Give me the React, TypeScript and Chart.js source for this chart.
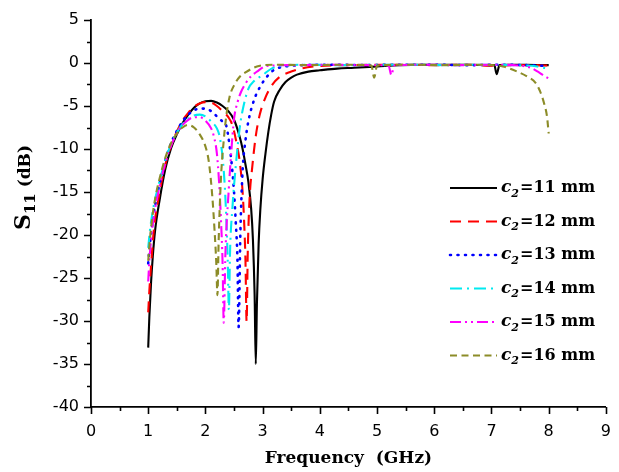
import React, { useEffect, useRef } from "react";
import { Chart, registerables } from "chart.js";

Chart.register(...registerables);

// ---- data ----
const c2Values = [11, 12, 13, 14, 15, 16];

const f11 = [1.0, 1.02, 1.05, 1.08, 1.12, 1.2, 1.3, 1.4, 1.5, 1.6, 1.7, 1.8, 1.9, 2.0, 2.1, 2.2, 2.3, 2.4, 2.5, 2.6, 2.65, 2.7, 2.75, 2.8, 2.83, 2.86, 2.88, 2.9, 2.93, 2.96, 3.0, 3.05, 3.1, 3.15, 3.2, 3.3, 3.4, 3.5, 3.6, 3.8, 4.0, 4.3, 4.6, 5.0, 5.4, 5.8, 6.2, 6.6, 7.0, 7.05, 7.09, 7.14, 7.3, 7.6, 8.0];
const s11 = [-33.1, -29.5, -25.5, -22.5, -19.5, -15.9, -12.3, -9.9, -8.3, -7.0, -6.0, -5.2, -4.7, -4.45, -4.4, -4.6, -5.0, -5.6, -6.6, -8.6, -10.0, -11.8, -13.8, -17.0, -20.5, -27.0, -35.0, -28.0, -21.0, -17.0, -13.5, -10.5, -8.0, -6.0, -4.5, -3.1, -2.2, -1.7, -1.35, -1.0, -0.85, -0.65, -0.55, -0.4, -0.25, -0.2, -0.2, -0.2, -0.25, -0.25, -1.3, -0.25, -0.2, -0.2, -0.25];

const f12 = [1.0, 1.02, 1.05, 1.1, 1.2, 1.3, 1.4, 1.5, 1.6, 1.7, 1.8, 1.9, 2.0, 2.1, 2.2, 2.3, 2.4, 2.47, 2.55, 2.6, 2.65, 2.68, 2.7, 2.72, 2.74, 2.77, 2.82, 2.88, 2.95, 3.05, 3.15, 3.3, 3.5, 3.7, 4.0, 4.5, 5.0, 5.5, 6.0, 6.5, 7.0, 7.5, 8.0];
const s12 = [-29.0, -26.5, -23.5, -19.3, -15.0, -11.8, -9.6, -8.0, -6.7, -5.8, -5.1, -4.7, -4.55, -4.6, -5.0, -5.6, -6.3, -7.2, -9.5, -11.5, -15.0, -19.0, -23.0, -30.1, -22.0, -16.0, -12.0, -8.5, -6.0, -4.0, -2.7, -1.6, -1.0, -0.6, -0.35, -0.25, -0.2, -0.2, -0.25, -0.2, -0.3, -0.25, -0.3];

const f13 = [1.0, 1.03, 1.07, 1.12, 1.2, 1.3, 1.4, 1.5, 1.6, 1.7, 1.8, 1.9, 2.0, 2.1, 2.2, 2.3, 2.36, 2.42, 2.47, 2.5, 2.53, 2.56, 2.58, 2.61, 2.65, 2.7, 2.75, 2.85, 2.97, 3.1, 3.2, 3.4, 3.7, 4.2, 4.8, 5.4, 6.0, 6.6, 7.2, 7.6, 8.0];
const s13 = [-23.3, -21.0, -18.8, -16.5, -14.0, -11.3, -9.3, -7.9, -6.8, -6.0, -5.5, -5.3, -5.3, -5.6, -6.2, -6.8, -7.2, -9.5, -12.5, -15.0, -18.5, -23.0, -30.7, -20.0, -12.5, -9.0, -6.8, -4.3, -2.6, -1.4, -0.8, -0.4, -0.25, -0.2, -0.25, -0.2, -0.2, -0.25, -0.2, -0.25, -0.35];

const f14 = [1.0, 1.03, 1.08, 1.15, 1.2, 1.3, 1.4, 1.5, 1.6, 1.7, 1.8, 1.9, 2.0, 2.1, 2.2, 2.25, 2.3, 2.34, 2.37, 2.39, 2.41, 2.43, 2.47, 2.53, 2.6, 2.65, 2.75, 2.85, 3.0, 3.17, 3.4, 3.8, 4.4, 5.0, 5.6, 6.2, 6.8, 7.4, 7.8, 8.0];
const s14 = [-21.5, -19.5, -17.2, -15.0, -13.7, -11.3, -9.4, -8.1, -7.1, -6.5, -6.1, -6.0, -6.2, -6.8, -7.6, -8.6, -11.0, -14.5, -19.0, -23.0, -28.7, -22.0, -17.0, -12.0, -7.5, -5.5, -3.0, -2.1, -1.4, -0.6, -0.3, -0.2, -0.25, -0.2, -0.2, -0.25, -0.2, -0.25, -0.4, -0.7];

const f15 = [1.0, 1.02, 1.05, 1.1, 1.2, 1.3, 1.4, 1.5, 1.6, 1.7, 1.8, 1.9, 2.0, 2.1, 2.15, 2.2, 2.24, 2.27, 2.3, 2.32, 2.35, 2.41, 2.45, 2.5, 2.56, 2.62, 2.7, 2.79, 2.9, 3.07, 3.5, 4.2, 4.8, 5.2, 5.25, 5.3, 5.8, 6.4, 7.0, 7.5, 7.7, 7.83, 7.92, 8.0];
const s15 = [-25.4, -23.0, -20.5, -17.8, -14.3, -11.6, -9.6, -8.2, -7.2, -6.6, -6.3, -6.3, -6.7, -7.6, -8.6, -10.5, -14.0, -18.0, -23.3, -30.2, -22.0, -14.5, -10.5, -6.5, -4.6, -3.4, -2.4, -1.6, -1.0, -0.35, -0.25, -0.2, -0.25, -0.3, -1.4, -0.3, -0.2, -0.25, -0.2, -0.3, -0.6, -1.1, -1.5, -1.8];

const f16 = [1.0, 1.03, 1.08, 1.15, 1.2, 1.3, 1.4, 1.5, 1.6, 1.7, 1.8, 1.9, 2.0, 2.06, 2.12, 2.16, 2.19, 2.21, 2.23, 2.27, 2.32, 2.36, 2.42, 2.5, 2.6, 2.7, 2.9, 3.2, 3.8, 4.4, 4.9, 4.95, 5.0, 5.6, 6.2, 6.8, 7.2, 7.45, 7.63, 7.77, 7.85, 7.92, 7.97, 8.0];
const s16 = [-23.0, -20.5, -17.5, -14.8, -13.4, -11.0, -9.3, -8.2, -7.5, -7.2, -7.5, -8.3, -9.7, -11.5, -15.5, -19.5, -23.3, -27.0, -21.0, -13.6, -9.0, -6.4, -4.0, -2.6, -1.6, -1.1, -0.4, -0.2, -0.25, -0.2, -0.3, -1.7, -0.3, -0.2, -0.25, -0.2, -0.4, -1.0, -1.6, -2.3, -3.3, -4.7, -6.2, -8.2];

const freqs = [f11, f12, f13, f14, f15, f16];
const values = [s11, s12, s13, s14, s15, s16];

const seriesColors = ["#000000", "#ff0000", "#0000ff", "#00eaf0", "#ff00ff", "#8c8c28"];
const seriesDashes: number[][] = [[], [11, 7], [1, 6.5], [12, 5, 2, 5], [11, 4, 2, 4, 2, 4], [7, 4.5]];
const seriesCaps = ["butt", "butt", "round", "butt", "butt", "butt"];

const xTitle = "Frequency  (GHz)";

// ---- plugins ----
const axisTicks = {
  id: "axisTicks",
  afterDraw(chart: any) {
    const { ctx, chartArea, scales } = chart;
    const xs = scales.x;
    const ys = scales.y;
    ctx.save();
    ctx.strokeStyle = "#000";
    ctx.lineWidth = 1.6;
    ctx.beginPath();
    for (let v = xs.min; v <= xs.max + 1e-9; v += 0.5) {
      const px = Math.round(xs.getPixelForValue(v)) + 0.5;
      const len = Math.abs(v - Math.round(v)) < 1e-6 ? 7 : 4;
      ctx.moveTo(px, chartArea.bottom);
      ctx.lineTo(px, chartArea.bottom + len);
    }
    for (let v = ys.min; v <= ys.max + 1e-9; v += 2.5) {
      const py = Math.round(ys.getPixelForValue(v)) + 0.5;
      const len = Math.abs(v / 5 - Math.round(v / 5)) < 1e-6 ? 7 : 4;
      ctx.moveTo(chartArea.left - len, py);
      ctx.lineTo(chartArea.left, py);
    }
    ctx.stroke();
    ctx.restore();
  },
};

const yTitlePlugin = {
  id: "yTitlePlugin",
  afterDraw(chart: any) {
    const { ctx, chartArea } = chart;
    const cy = (chartArea.top + chartArea.bottom) / 2 - 26;
    ctx.save();
    ctx.translate(23, cy);
    ctx.rotate(-Math.PI / 2);
    ctx.fillStyle = "#000";
    ctx.textBaseline = "alphabetic";
    const fS = "bold 22px 'DejaVu Serif'";
    const fSub = "bold 15px 'DejaVu Serif'";
    const fRest = "bold 17px 'DejaVu Serif'";
    ctx.font = fS;
    const wS = ctx.measureText("S").width;
    ctx.font = fSub;
    const wSub = ctx.measureText("11").width;
    ctx.font = fRest;
    const wRest = ctx.measureText(" (dB)").width;
    let x = -(wS + wSub + wRest) / 2;
    const base = 7;
    ctx.font = fS;
    ctx.fillText("S", x, base);
    x += wS;
    ctx.font = fSub;
    ctx.fillText("11", x, base + 5);
    x += wSub;
    ctx.font = fRest;
    ctx.fillText(" (dB)", x, base);
    ctx.restore();
  },
};

const legendPlugin = {
  id: "legendPlugin",
  afterDatasetsDraw(chart: any) {
    const { ctx } = chart;
    const x0 = 450;
    const x1 = 497;
    const tx = 501;
    const rowTop = 188;
    const rowGap = 33.5;
    chart.data.datasets.forEach((ds: any, i: number) => {
      const y = rowTop + i * rowGap;
      ctx.save();
      ctx.strokeStyle = ds.borderColor;
      ctx.lineWidth = ds.borderWidth;
      ctx.lineCap = ds.borderCapStyle;
      ctx.setLineDash(ds.borderDash || []);
      ctx.beginPath();
      ctx.moveTo(x0, y);
      ctx.lineTo(x1, y);
      ctx.stroke();
      ctx.setLineDash([]);
      ctx.fillStyle = "#000";
      ctx.textBaseline = "middle";
      ctx.font = "italic bold 17px 'DejaVu Serif'";
      ctx.fillText("c", tx, y);
      let x = tx + ctx.measureText("c").width;
      ctx.font = "italic bold 11px 'DejaVu Serif'";
      ctx.fillText("2", x, y + 6);
      x += ctx.measureText("2").width + 1;
      ctx.font = "bold 16px 'DejaVu Serif'";
      ctx.fillText("=" + c2Values[i] + " mm", x, y);
      ctx.restore();
    });
  },
};

export default function App() {
  const canvasRef = useRef<HTMLCanvasElement | null>(null);

  useEffect(() => {
    if (!canvasRef.current) return;
    const datasets = freqs.map((fs, i) => ({
      label: "c2=" + c2Values[i] + " mm",
      data: fs.map((f, j) => ({ x: f, y: values[i][j] })),
      borderColor: seriesColors[i],
      backgroundColor: seriesColors[i],
      borderWidth: i === 2 ? 2.6 : 2.1,
      borderDash: seriesDashes[i],
      borderCapStyle: seriesCaps[i],
      pointRadius: 0,
      fill: false,
      cubicInterpolationMode: "monotone",
      order: 5 - i,
    }));

    const tickFont = { family: "'DejaVu Sans'", size: 16 };

    const chart = new Chart(canvasRef.current, {
      type: "line",
      data: { datasets } as any,
      options: {
        animation: false,
        responsive: false,
        maintainAspectRatio: false,
        layout: { padding: { top: 20, right: 10, left: 0, bottom: 0 } },
        plugins: { legend: { display: false }, tooltip: { enabled: false } },
        scales: {
          x: {
            type: "linear",
            min: 0,
            max: 9,
            ticks: {
              stepSize: 0.5,
              autoSkip: false,
              maxRotation: 0,
              padding: 8,
              color: "#000",
              font: tickFont,
              callback: (v: any) => (Number.isInteger(v) ? String(v) : ""),
            },
            grid: { drawOnChartArea: false, drawTicks: true, tickLength: 7, color: "rgba(0,0,0,0)" },
            border: { display: true, color: "#000", width: 1.8 },
            title: {
              display: true,
              text: xTitle,
              color: "#000",
              font: { family: "'DejaVu Serif'", weight: "bold", size: 17 },
              padding: { top: 0, bottom: 3 },
            },
            afterFit: (s: any) => {
              s.height = 65;
            },
          },
          y: {
            type: "linear",
            min: -40,
            max: 5,
            ticks: {
              stepSize: 2.5,
              autoSkip: false,
              padding: 5,
              color: "#000",
              font: tickFont,
              callback: (v: any) => (Math.abs(v / 5 - Math.round(v / 5)) < 1e-6 ? String(v) : ""),
            },
            grid: { drawOnChartArea: false, drawTicks: true, tickLength: 7, color: "rgba(0,0,0,0)" },
            border: { display: true, color: "#000", width: 1.8 },
            afterFit: (s: any) => {
              s.width = 91;
            },
          },
        },
      } as any,
      plugins: [axisTicks, yTitlePlugin, legendPlugin],
    });
    return () => chart.destroy();
  }, []);

  return (
    <div style={{ position: "fixed", left: 0, top: 0, width: 619, height: 472, background: "#fff" }}>
      <canvas ref={canvasRef} width={619} height={472} style={{ display: "block" }} />
    </div>
  );
}
